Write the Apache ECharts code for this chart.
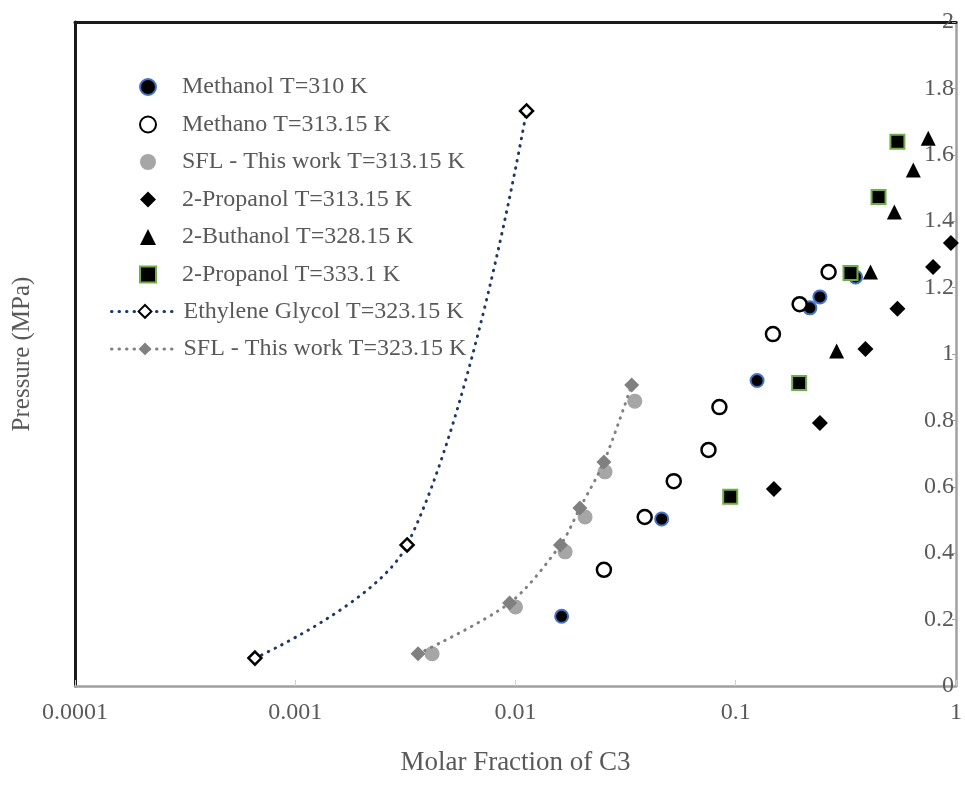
<!DOCTYPE html>
<html>
<head>
<meta charset="utf-8">
<title>Pressure vs molar fraction of C3</title>
<script src="https://cdn.jsdelivr.net/npm/echarts@6/dist/echarts.min.js"></script>
<style>
  html, body { margin: 0; padding: 0; background: #fff; }
  #chart { width: 965px; height: 796px; }
</style>
</head>
<body>
<div id="chart"></div>
<script>
// data: [molar fraction, pressure MPa]
const methanol310 = [[0.0162, 0.21], [0.0461, 0.503], [0.125, 0.92], [0.217, 1.139], [0.241, 1.172], [0.35, 1.232]]
const methanol313 = [[0.0252, 0.35], [0.0386, 0.509], [0.0523, 0.617], [0.0752, 0.711], [0.0843, 0.84], [0.1475, 1.06], [0.195, 1.15], [0.264, 1.247]]
const sfl313 = [[0.00418, 0.097], [0.0100, 0.238], [0.0168, 0.404], [0.0207, 0.509], [0.0255, 0.645], [0.0348, 0.858]]
const propanol313 = [[0.149, 0.593], [0.241, 0.792], [0.388, 1.015], [0.542, 1.136], [0.787, 1.262], [0.948, 1.334]]
const buthanol328 = [[0.287, 1.009], [0.409, 1.247], [0.525, 1.428], [0.64, 1.554], [0.748, 1.65]]
const propanol333 = [[0.0944, 0.57], [0.194, 0.913], [0.332, 1.244], [0.445, 1.473], [0.542, 1.639]]
const glycol323 = [[0.000656, 0.084], [0.00322, 0.425], [0.01122, 1.732]]
const sfl323 = [[0.00361, 0.097], [0.0094, 0.25], [0.0160, 0.425], [0.0196, 0.536], [0.0252, 0.675], [0.0337, 0.907]]

const xTickLabels = ['0.0001', '0.001', '0.01', '0.1', '1']

const scatterNames = [
  'Methanol T=310 K',
  'Methano T=313.15 K',
  'SFL - This work T=313.15 K',
  '2-Propanol T=313.15 K',
  '2-Buthanol T=328.15 K',
  '2-Propanol T=333.1 K'
]
const lineNames = ['Ethylene Glycol T=323.15 K', 'SFL - This work T=323.15 K']

const font = 'Liberation Serif'
const textGray = '#595959'
const rowStep = 37.4
const legendTop = 70

const chart = echarts.init(document.getElementById('chart'))

function scatter (name, data, symbol, size, color, border, borderWidth) {
  return {
    name: name,
    type: 'scatter',
    data: data,
    symbol: symbol,
    symbolSize: size,
    itemStyle: {
      color: color,
      borderColor: border || color,
      borderWidth: borderWidth || 0,
      opacity: 1
    },
    z: 3
  }
}

const dotted = (color) => ({ color: color, width: 3, type: [0.5, 7], cap: 'round' })

const legendText = (padLeft) => ({
  fontFamily: font,
  fontSize: 24,
  color: textGray,
  padding: [0, 0, 0, padLeft]
})

const option = {
  animation: false,
  textStyle: { fontFamily: font },
  grid: { left: 75, right: 6, top: 22, bottom: 110 },
  legend: [
    {
      orient: 'vertical',
      left: 134,
      top: legendTop,
      itemWidth: 16,
      itemHeight: 16,
      itemGap: 13.5,
      textStyle: legendText(21),
      data: scatterNames
    },
    {
      orient: 'vertical',
      left: 105,
      top: legendTop + rowStep * 6,
      itemWidth: 67,
      itemHeight: 16,
      itemGap: 13.5,
      lineStyle: { width: 3 },
      textStyle: legendText(0),
      data: lineNames
    }
  ],
  xAxis: [
    {
      type: 'log',
      logBase: 10,
      min: 0.0001,
      max: 1,
      name: 'Molar Fraction of C3',
      nameLocation: 'middle',
      nameGap: 63,
      nameTextStyle: { fontFamily: font, fontSize: 27, color: textGray },
      axisLine: { onZero: false, lineStyle: { color: '#a0a0a0', width: 2.5 } },
      axisTick: { inside: true, length: 6, lineStyle: { color: '#d0d0d0', width: 1 } },
      axisLabel: {
        fontFamily: font,
        fontSize: 24,
        color: textGray,
        margin: 15,
        formatter: v => xTickLabels[Math.round(Math.log10(v)) + 4]
      },
      splitLine: { show: false }
    },
    {
      // top frame line
      type: 'value',
      position: 'top',
      axisLine: { show: true, onZero: false, lineStyle: { color: '#1a1a1a', width: 3 } },
      axisTick: { show: false },
      axisLabel: { show: false },
      splitLine: { show: false }
    }
  ],
  yAxis: [
    {
      type: 'value',
      position: 'right',
      min: 0,
      max: 2,
      interval: 0.2,
      axisLine: { show: true, onZero: false, lineStyle: { color: '#a0a0a0', width: 2.5 } },
      axisTick: { show: true, inside: true, length: 4, lineStyle: { color: '#a0a0a0' } },
      axisLabel: {
        inside: true,
        margin: 2,
        fontFamily: font,
        fontSize: 24,
        color: textGray
      },
      splitLine: { show: false }
    },
    {
      // left frame line + title
      type: 'value',
      position: 'left',
      min: 0,
      max: 2,
      name: 'Pressure (MPa)',
      nameLocation: 'middle',
      nameGap: 40,
      nameTextStyle: { fontFamily: font, fontSize: 25, color: textGray },
      axisLine: { show: true, onZero: false, lineStyle: { color: '#1a1a1a', width: 3 } },
      axisTick: { show: false },
      axisLabel: { show: false },
      splitLine: { show: false }
    }
  ],
  series: [
    scatter(scatterNames[0], methanol310, 'circle', 13, '#000', '#4472c4', 2),
    scatter(scatterNames[1], methanol313, 'circle', 14, '#fff', '#000', 2.5),
    scatter(scatterNames[2], sfl313, 'circle', 15, '#a6a6a6'),
    scatter(scatterNames[3], propanol313, 'diamond', 16, '#000'),
    scatter(scatterNames[4], buthanol328, 'triangle', 15, '#000'),
    scatter(scatterNames[5], propanol333, 'rect', 14, '#000', '#70ad47', 2),
    {
      name: lineNames[0],
      type: 'line',
      data: glycol323,
      smooth: 0.35,
      symbol: 'diamond',
      symbolSize: 13,
      showAllSymbol: true,
      itemStyle: { color: '#fff', borderColor: '#000', borderWidth: 2.5 },
      lineStyle: dotted('#203864'),
      z: 4
    },
    {
      name: lineNames[1],
      type: 'line',
      data: sfl323,
      smooth: 0.3,
      symbol: 'diamond',
      symbolSize: 15,
      showAllSymbol: true,
      itemStyle: { color: '#808080', borderColor: '#808080', borderWidth: 0 },
      lineStyle: dotted('#808080'),
      z: 4
    }
  ]
}

chart.setOption(option)
</script>
</body>
</html>
